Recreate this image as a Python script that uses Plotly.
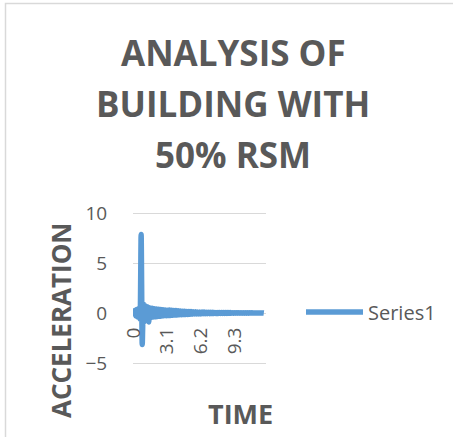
import numpy as np
import plotly.graph_objects as go

# Sampling times (s), every 0.1 s from 0 to 12 s
time_s = np.round(np.arange(0, 121) * 0.1, 1)

# Acceleration response
acceleration = [
    0.00, 0.25, -0.30, 0.35, -0.40, 0.45, -0.60, 7.85, -3.15, 0.95,
    -0.85, 0.70, -0.75, 0.60, -0.90, 0.50, -0.45, 0.48, -0.40, 0.42,
    -0.38, 0.40, -0.35, 0.38, -0.33, 0.35, -0.30, 0.33, -0.28, 0.30,
    -0.27, 0.28, -0.25, 0.30, -0.24, 0.27, -0.22, 0.25, -0.21, 0.24,
    -0.20, 0.22, -0.18, 0.20, -0.17, 0.18, -0.16, 0.17, -0.15, 0.16,
    -0.14, 0.15, -0.13, 0.14, -0.12, 0.13, -0.11, 0.12, -0.10, 0.11,
    -0.10, 0.10, -0.09, 0.10, -0.08, 0.09, -0.08, 0.08, -0.07, 0.08,
    -0.07, 0.07, -0.06, 0.07, -0.06, 0.06, -0.05, 0.06, -0.05, 0.05,
    -0.05, 0.05, -0.04, 0.05, -0.04, 0.04, -0.04, 0.04, -0.03, 0.04,
    -0.03, 0.03, -0.03, 0.03, -0.03, 0.03, -0.02, 0.03, -0.02, 0.02,
    -0.02, 0.02, -0.02, 0.02, -0.02, 0.02, -0.02, 0.02, -0.01, 0.02,
    -0.01, 0.01, -0.01, 0.01, -0.01, 0.01, -0.01, 0.01, -0.01, 0.01,
    0.00,
]

x_tick_values = [0, 3.1, 6.2, 9.3]
y_tick_values = [-5, 0, 5, 10]

title_lines = ["ANALYSIS OF", "BUILDING WITH", "50% RSM"]
x_title = "TIME"
y_title = "ACCELERATION"
series_name = "Series1"

W, H = 453, 437
ML, MR, MT, MB = 133, 187, 208, 69
PW, PH = W - ML - MR, H - MT - MB

TEXT = "#595959"
GRID = "#d9d9d9"
BLUE = "#5b9bd5"
FONT = "Open Sans"


def px_x(p):
    return (p - ML) / PW


def px_y(p):
    return (H - MB - p) / PH


fig = go.Figure()
fig.add_trace(go.Scatter(
    x=time_s, y=acceleration, mode="lines", name=series_name,
    line=dict(color=BLUE, width=5.5, shape="spline", smoothing=0.6),
))

annotations = []
for i, line in enumerate(title_lines):
    annotations.append(dict(
        text=f"<b>{line}</b>", xref="paper", yref="paper",
        x=px_x(233), y=px_y(52 + 51 * i), xanchor="center", yanchor="middle",
        showarrow=False, font=dict(family=FONT, size=35, color=TEXT),
    ))
annotations.append(dict(
    text=f"<b>{y_title}</b>", xref="paper", yref="paper",
    x=px_x(61), y=px_y(321), xanchor="center", yanchor="middle",
    textangle=-90, showarrow=False, font=dict(family=FONT, size=26, color=TEXT),
))
annotations.append(dict(
    text=f"<b>{x_title}</b>", xref="paper", yref="paper",
    x=px_x(240), y=px_y(413), xanchor="center", yanchor="middle",
    showarrow=False, font=dict(family=FONT, size=27, color=TEXT),
))

fig.update_layout(
    width=W, height=H,
    margin=dict(l=ML, r=MR, t=MT, b=MB, pad=0),
    paper_bgcolor="white", plot_bgcolor="white",
    font=dict(family=FONT, color=TEXT),
    showlegend=True,
    legend=dict(
        x=px_x(301), y=px_y(312), xanchor="left", yanchor="middle",
        font=dict(family=FONT, size=20, color=TEXT),
        bgcolor="rgba(0,0,0,0)", itemwidth=57,
    ),
    xaxis=dict(
        range=[-0.05, 12.2], anchor="free", position=5.5 / 16,
        tickmode="array", tickvals=x_tick_values,
        ticktext=[str(v) for v in x_tick_values],
        tickangle=-90, ticks="outside", ticklen=6, tickcolor="rgba(0,0,0,0)",
        showgrid=False, zeroline=False, showline=False,
        tickfont=dict(family=FONT, size=19, color=TEXT),
    ),
    yaxis=dict(
        range=[-5.5, 10.5], tickmode="array", tickvals=y_tick_values,
        ticks="outside", ticklen=21, tickcolor="rgba(0,0,0,0)",
        showgrid=True, gridcolor=GRID, gridwidth=1,
        zeroline=False, showline=False,
        tickfont=dict(family=FONT, size=19, color=TEXT),
    ),
    annotations=annotations,
    shapes=[dict(
        type="rect", xref="paper", yref="paper", layer="below",
        x0=px_x(5.5), x1=px_x(470), y0=px_y(450), y1=px_y(3.5),
        line=dict(color=GRID, width=1.5), fillcolor="rgba(0,0,0,0)",
    )],
)

fig.write_html("out.html", config={"displayModeBar": False})
